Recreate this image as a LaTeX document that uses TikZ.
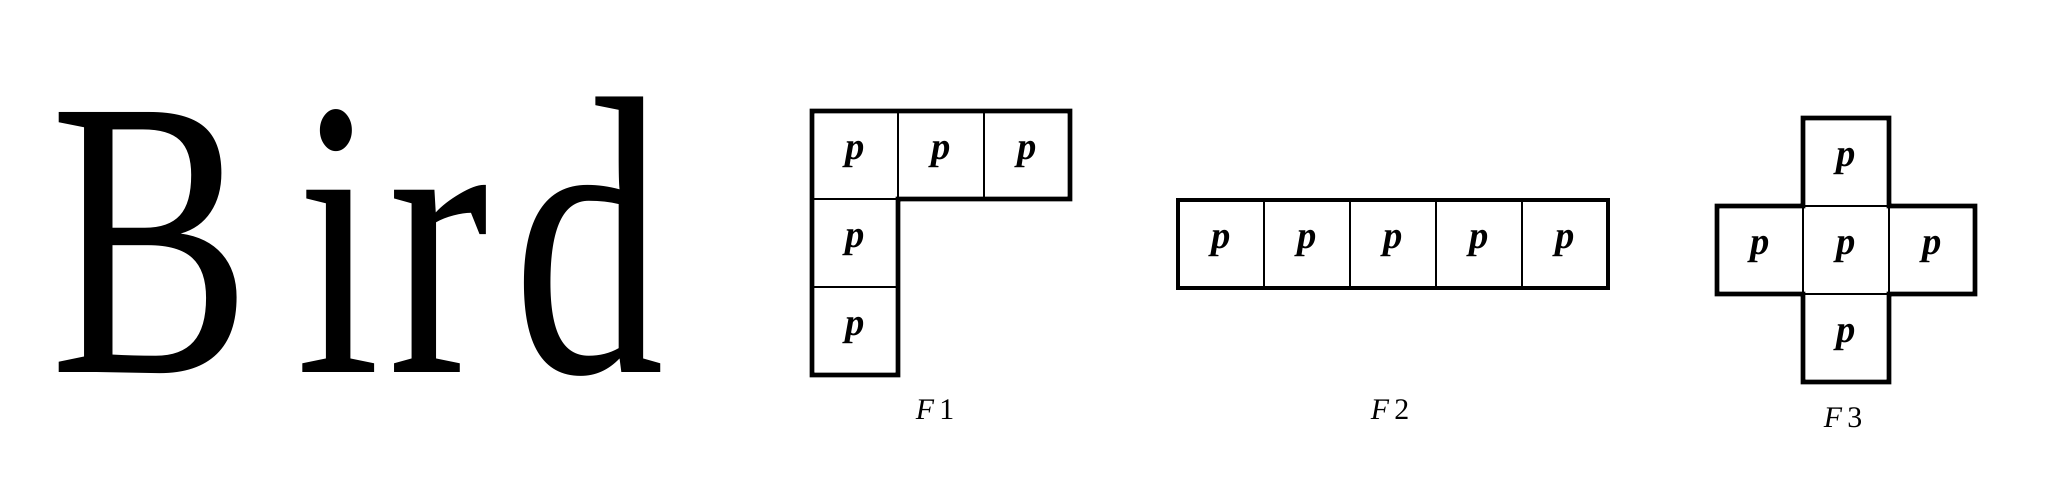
\documentclass[tikz,border=0pt]{standalone}
\usepackage{fontspec}
\setmainfont{Liberation Serif}
\usepackage{tikz}

\tikzset{
  cell/.style={rectangle, draw, line width=0.5pt, inner sep=0pt, outer sep=0pt,
    minimum width=0.86cm, minimum height=0.88cm, font=\fontsize{11}{12}\selectfont\bfseries\itshape},
  outline/.style={line width=1.4pt, line join=miter},
  caption/.style={font=\fontsize{8.5}{10}\selectfont}
}

\begin{document}
\begin{tikzpicture}
    \useasboundingbox (0,0) rectangle (20.48,4.88);

    % Wortbild
    \node[anchor=base west, inner sep=0pt] (word) at (0.50,1.15)
      {\scalebox{0.76}[1]{\fontsize{113}{120}\selectfont B\kern0.15em i\kern0.025em r\kern0.08em d}};

    % F1
    \node[cell] (a1) at (8.55, 3.33) {p};
    \node[cell] (a2) at (9.41, 3.33) {p};
    \node[cell] (a3) at (10.27, 3.33) {p};
    \node[cell] (a4) at (8.55, 2.45) {p};
    \node[cell] (a5) at (8.55, 1.57) {p};
    \draw[outline] (a1.north west) -- (a3.north east) -- (a3.south east)
      -- (a4.north east) -- (a5.south east) -- (a5.south west) -- cycle;
    \node[caption] (f1) at (9.35, 0.78) {\textit{F}\,1};

    % F2
    \node[cell] (b1) at (12.21, 2.44) {p};
    \node[cell] (b2) at (13.07, 2.44) {p};
    \node[cell] (b3) at (13.93, 2.44) {p};
    \node[cell] (b4) at (14.79, 2.44) {p};
    \node[cell] (b5) at (15.65, 2.44) {p};
    \draw[outline] (b1.north west) rectangle (b5.south east);
    \node[caption] (f2) at (13.90, 0.78) {\textit{F}\,2};

    % F3
    \node[cell] (c1) at (18.46, 3.26) {p};
    \node[cell] (c2) at (17.60, 2.38) {p};
    \node[cell] (c3) at (18.46, 2.38) {p};
    \node[cell] (c4) at (19.32, 2.38) {p};
    \node[cell] (c5) at (18.46, 1.50) {p};
    \draw[outline] (c1.north west) -- (c1.north east) -- (c4.north west)
      -- (c4.north east) -- (c4.south east) -- (c5.north east)
      -- (c5.south east) -- (c5.south west) -- (c2.south east)
      -- (c2.south west) -- (c2.north west) -- (c1.south west) -- cycle;
    \node[caption] (f3) at (18.43, 0.70) {\textit{F}\,3};

  \end{tikzpicture}
\end{document}
